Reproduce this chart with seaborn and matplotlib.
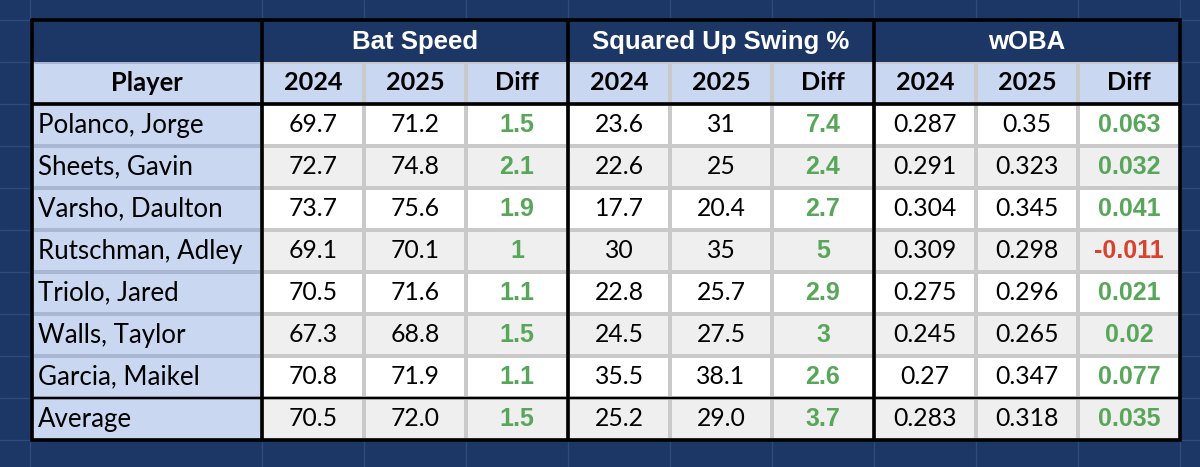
import numpy as np
import pandas as pd
import matplotlib
matplotlib.use("Agg")
import matplotlib.pyplot as plt
from matplotlib.colors import ListedColormap
import seaborn as sns

# ---------------- data ----------------
players = ["Polanco, Jorge", "Sheets, Gavin", "Varsho, Daulton", "Rutschman, Adley",
           "Triolo, Jared", "Walls, Taylor", "Garcia, Maikel"]
groups = ["Bat Speed", "Squared Up Swing %", "wOBA"]
sub_labels = ["2024", "2025", "Diff"]

bat_2024 = [69.7, 72.7, 73.7, 69.1, 70.5, 67.3, 70.8]
bat_2025 = [71.2, 74.8, 75.6, 70.1, 71.6, 68.8, 71.9]
bat_diff = [1.5, 2.1, 1.9, 1, 1.1, 1.5, 1.1]
sq_2024 = [23.6, 22.6, 17.7, 30, 22.8, 24.5, 35.5]
sq_2025 = [31, 25, 20.4, 35, 25.7, 27.5, 38.1]
sq_diff = [7.4, 2.4, 2.7, 5, 2.9, 3, 2.6]
woba_2024 = [0.287, 0.291, 0.304, 0.309, 0.275, 0.245, 0.27]
woba_2025 = [0.35, 0.323, 0.345, 0.298, 0.296, 0.265, 0.347]
woba_diff = [0.063, 0.032, 0.041, -0.011, 0.021, 0.02, 0.077]

avg_label = "Average"
avg_bat = [70.5, 72.0, 1.5]
avg_sq = [25.2, 29.0, 3.7]
avg_woba = [0.283, 0.318, 0.035]

# ---------------- style ----------------
sns.set_theme(style="white")
plt.rcParams["font.family"] = ["Lato", "DejaVu Sans"]

BG = "#1c3765"
GRID_BG = "#2d4b7b"
NAVY = "#1c3765"
LIGHT = "#c9d7f1"
WHITE = "#ffffff"
GRAY = "#efefef"
GREEN = "#58a65a"
RED = "#d8432f"
INNER = "#c9c9c9"
INNER_P = "#a9b7d2"

W, H = 1200, 467
fig = plt.figure(figsize=(W / 100, H / 100), dpi=100)
fig.patch.set_facecolor(BG)

# layout (pixels)
L, P, R = 32, 262, 1180
T, HB, SB, B = 20, 62, 104, 440
ncol = 9
cw = (R - P) / ncol
nrow = len(players) + 1
rh = (B - SB) / nrow


def rect(x0, y0, x1, y1):
    return [x0 / W, 1 - y1 / H, (x1 - x0) / W, (y1 - y0) / H]


# background spreadsheet grid
base = fig.add_axes([0, 0, 1, 1])
base.set_xlim(0, W)
base.set_ylim(H, 0)
base.set_facecolor(BG)
base.axis("off")
for x in [30] + [P + k * cw for k in range(ncol + 1)]:
    base.axvline(x, color=GRID_BG, lw=1.0)
for y in [T, HB] + [SB + k * rh for k in range(nrow + 1)]:
    base.axhline(y, color=GRID_BG, lw=1.0)

# build the body tables
cols = [bat_2024, bat_2025, bat_diff, sq_2024, sq_2025, sq_diff, woba_2024, woba_2025, woba_diff]
avg_row = avg_bat + avg_sq + avg_woba
avg_dec = [1, 1, 1, 1, 1, 1, 3, 3, 3]
body = pd.DataFrame({f"c{j}": c for j, c in enumerate(cols)}, index=players)

codes = np.zeros((nrow + 1, ncol))
for i in range(nrow):
    codes[i + 1, :] = 1 if i % 2 == 0 else 2
cmap = ListedColormap([LIGHT, WHITE, GRAY])

ax_n = fig.add_axes(rect(P, HB, R, B))
sns.heatmap(codes, cmap=cmap, vmin=-0.5, vmax=2.5, cbar=False, linewidths=1.6,
            linecolor=INNER, xticklabels=False, yticklabels=False, ax=ax_n)
ax_n.axis("off")

ax_p = fig.add_axes(rect(L, HB, P, B))
sns.heatmap(np.zeros((nrow + 1, 1)), cmap=cmap, vmin=-0.5, vmax=2.5, cbar=False,
            linewidths=1.6, linecolor=INNER_P, xticklabels=False, yticklabels=False, ax=ax_p)
ax_p.axis("off")

num_kw = dict(ha="center", va="center", fontsize=17.8, color="black", family=["Lato"])
diff_kw = dict(ha="center", va="center", fontsize=18, fontweight="bold",
               family=["Liberation Sans"])
name_kw = dict(ha="left", va="center", fontsize=18.6, color="black", family=["Lato"])

# sub header
for j in range(ncol):
    ax_n.text(j + 0.5, 0.5, sub_labels[j % 3], ha="center", va="center", fontsize=18.2,
              fontweight="bold", color="black", family=["Lato"])
ax_p.text(0.5, 0.5, "Player", ha="center", va="center", fontsize=18.4, fontweight="bold",
          color="black", family=["Lato"])

# rows
for i, name in enumerate(players):
    ax_p.text(0.026, i + 1.5, name, **name_kw)
    for j in range(ncol):
        v = body.iloc[i, j]
        s = f"{v:g}"
        if j % 3 == 2:
            ax_n.text(j + 0.5, i + 1.5, s, color=GREEN if v >= 0 else RED, **diff_kw)
        else:
            ax_n.text(j + 0.5, i + 1.5, s, **num_kw)

# average row
ia = nrow
ax_p.text(0.026, ia + 0.5, avg_label, **name_kw)
for j, v in enumerate(avg_row):
    s = f"{v:.{avg_dec[j]}f}"
    if j % 3 == 2:
        ax_n.text(j + 0.5, ia + 0.5, s, color=GREEN if v >= 0 else RED, **diff_kw)
    else:
        ax_n.text(j + 0.5, ia + 0.5, s, **num_kw)

# overlay: header band, borders, group titles
top = fig.add_axes([0, 0, 1, 1])
top.set_xlim(0, W)
top.set_ylim(H, 0)
top.patch.set_alpha(0)
top.axis("off")
top.fill_between([L, R], T, HB, color=NAVY, lw=0)
for g, name in enumerate(groups):
    xc = P + (3 * g + 1.5) * cw
    top.text(xc, (T + HB) / 2 + 1, name, ha="center", va="center", fontsize=18.5,
             fontweight="bold", color="white", family=["Liberation Sans"])

thick = 2.6
top.plot([L, R, R, L, L], [T, T, B, B, T], color="black", lw=thick, solid_joinstyle="miter")
for x in [P, P + 3 * cw, P + 6 * cw]:
    top.plot([x, x], [T, B], color="black", lw=thick)
top.plot([L, R], [SB, SB], color="black", lw=thick)
top.plot([L, R], [SB + (nrow - 1) * rh] * 2, color="black", lw=1.7)

fig.savefig("out.png", dpi=100, facecolor=BG)
